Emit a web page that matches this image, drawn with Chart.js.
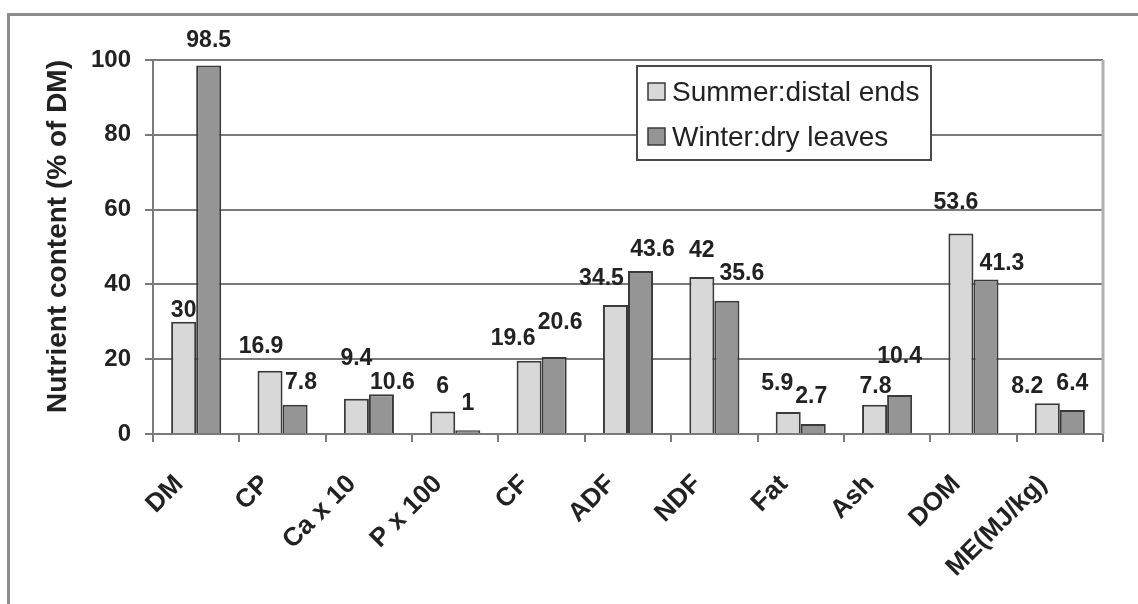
<!DOCTYPE html>
<html>
<head>
<meta charset="utf-8">
<title>Nutrient content</title>
<script src="https://cdn.jsdelivr.net/npm/chart.js@4/dist/chart.umd.min.js"></script>
<style>
  html, body { margin: 0; padding: 0; background: #ffffff; overflow: hidden; }
  #wrap { position: relative; width: 1138px; height: 604px; }
  #frame {
    position: absolute; left: 7px; top: 13px; width: 1400px; height: 900px;
    border-top: 3px solid #8c8c8c; border-left: 3px solid #8c8c8c;
  }
  #chart { position: absolute; left: 0; top: 0; }
</style>
</head>
<body>
<div id="wrap">
  <div id="frame"></div>
  <canvas id="chart" width="1138" height="604"></canvas>
</div>
<script>
// Nutrient categories and the two seasonal series (% of DM)
const categories = ['DM', 'CP', 'Ca x 10', 'P x 100', 'CF', 'ADF', 'NDF', 'Fat', 'Ash', 'DOM', 'ME(MJ/kg)'];
const summerValues = [30, 16.9, 9.4, 6, 19.6, 34.5, 42, 5.9, 7.8, 53.6, 8.2];
const winterValues = [98.5, 7.8, 10.6, 1, 20.6, 43.6, 35.6, 2.7, 10.4, 41.3, 6.4];
const seriesNames = ['Summer:distal ends', 'Winter:dry leaves'];
const yTicks = [0, 20, 40, 60, 80, 100];
const yTitle = 'Nutrient content (% of DM)';

// Hand placement of each value label: [sideways shift, rise above bar top] in px
const summerLabelNudge = [[0, 5], [-9, 18], [0, 34], [0, 19], [-16, 16], [-14, 20], [0, 20], [-11, 22], [1, 12], [-5, 25], [-20, 10]];
const winterLabelNudge = [[0, 19], [6, 16], [11, 5], [0, 20], [6, 28], [12, 15], [15, 21], [-2, 21], [0, 32], [16, 10], [0, 20]];

const FONT = '"Liberation Sans", Arial, Helvetica, sans-serif';
const TEXT = '#222222';
const LINE = '#7a7a7a';
const W = 1138, H = 604;
const PLOT = { left: 153, right: 1103, top: 60, bottom: 434 };

// Value labels above every bar
const valueLabels = {
  id: 'valueLabels',
  afterDatasetsDraw(chart) {
    const ctx = chart.ctx;
    const nudges = [summerLabelNudge, winterLabelNudge];
    ctx.save();
    ctx.font = 'bold 23px ' + FONT;
    ctx.fillStyle = TEXT;
    ctx.textAlign = 'center';
    ctx.textBaseline = 'alphabetic';
    chart.data.datasets.forEach((ds, di) => {
      chart.getDatasetMeta(di).data.forEach((bar, i) => {
        const [dx, rise] = nudges[di][i];
        ctx.fillText(String(ds.data[i]), bar.x + dx, bar.y - rise);
      });
    });
    ctx.restore();
  }
};

// Right edge of the plot box
const plotBorder = {
  id: 'plotBorder',
  beforeDatasetsDraw(chart) {
    const { ctx, chartArea } = chart;
    ctx.save();
    ctx.strokeStyle = '#b0b0b0';
    ctx.lineWidth = 3;
    ctx.beginPath();
    ctx.moveTo(chartArea.right, chartArea.top);
    ctx.lineTo(chartArea.right, chartArea.bottom);
    ctx.stroke();
    ctx.restore();
  }
};

// Boxed legend inside the plot, upper right
const boxLegend = {
  id: 'boxLegend',
  afterDraw(chart) {
    const ctx = chart.ctx;
    const box = { x: 637, y: 66, w: 294, h: 94 };
    ctx.save();
    ctx.fillStyle = '#ffffff';
    ctx.fillRect(box.x, box.y, box.w, box.h);
    ctx.strokeStyle = '#4a4a4a';
    ctx.lineWidth = 2;
    ctx.strokeRect(box.x, box.y, box.w, box.h);
    ctx.font = '28px ' + FONT;
    ctx.textAlign = 'left';
    ctx.textBaseline = 'middle';
    chart.data.datasets.forEach((ds, i) => {
      const cy = box.y + 26 + i * 45;
      ctx.fillStyle = ds.backgroundColor;
      ctx.fillRect(648, cy - 9, 17, 17);
      ctx.strokeStyle = '#3a3a3a';
      ctx.lineWidth = 1.5;
      ctx.strokeRect(648, cy - 9, 17, 17);
      ctx.fillStyle = TEXT;
      ctx.fillText(ds.label, 672, cy + 1);
    });
    ctx.restore();
  }
};

new Chart(document.getElementById('chart'), {
  type: 'bar',
  data: {
    labels: categories,
    datasets: [
      {
        label: seriesNames[0],
        data: summerValues,
        backgroundColor: '#d8d8d8',
        borderColor: '#3a3a3a',
        borderWidth: 2,
        categoryPercentage: 0.58,
        barPercentage: 1.0
      },
      {
        label: seriesNames[1],
        data: winterValues,
        backgroundColor: '#959595',
        borderColor: '#3a3a3a',
        borderWidth: 2,
        categoryPercentage: 0.58,
        barPercentage: 1.0
      }
    ]
  },
  options: {
    responsive: false,
    animation: false,
    devicePixelRatio: 1,
    layout: { padding: { left: 10, top: PLOT.top, right: W - PLOT.right, bottom: 0 } },
    plugins: {
      legend: { display: false },
      tooltip: { enabled: false }
    },
    scales: {
      x: {
        offset: true,
        grid: {
          offset: true,
          drawOnChartArea: false,
          drawTicks: true,
          tickLength: 8,
          color: LINE,
          lineWidth: 2
        },
        border: { color: LINE, width: 2 },
        ticks: {
          autoSkip: false,
          minRotation: 45,
          maxRotation: 45,
          padding: 27,
          labelOffset: -17,
          color: TEXT,
          font: { family: FONT, size: 26, weight: 'bold' }
        },
        afterFit(scale) { scale.height = H - PLOT.bottom; }
      },
      y: {
        min: 0,
        max: 100,
        afterBuildTicks(scale) { scale.ticks = yTicks.map(v => ({ value: v })); },
        grid: { color: LINE, lineWidth: 2, tickLength: 8 },
        border: { color: LINE, width: 2 },
        ticks: {
          padding: 14,
          color: TEXT,
          font: { family: FONT, size: 24, weight: 'bold' }
        },
        title: {
          display: true,
          text: yTitle,
          align: 'end',
          color: TEXT,
          font: { family: FONT, size: 28, weight: 'bold' },
          padding: { top: 31, bottom: 0 }
        },
        afterFit(scale) { scale.width = PLOT.left - 10; }
      }
    }
  },
  plugins: [plotBorder, valueLabels, boxLegend]
});
</script>
</body>
</html>
